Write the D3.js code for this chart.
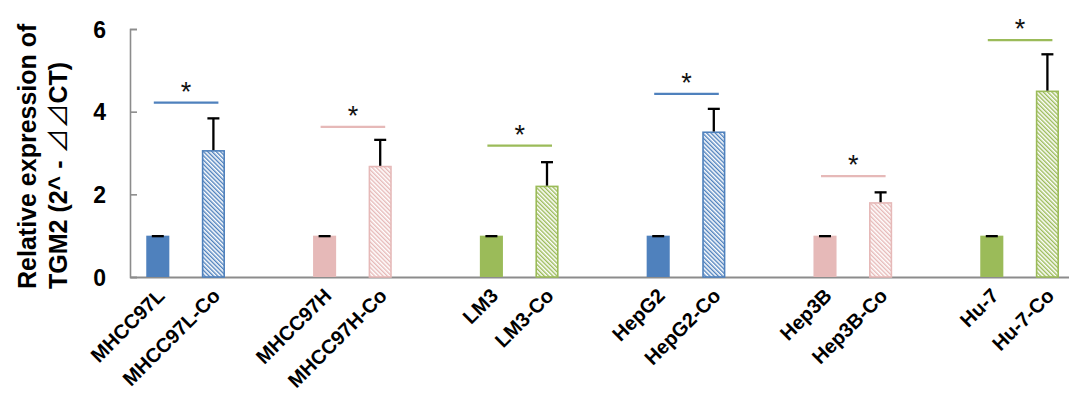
<!DOCTYPE html>
<html>
<head>
<meta charset="utf-8">
<script src="https://cdn.jsdelivr.net/npm/d3@7"></script>
<style>
  html, body { margin: 0; padding: 0; background: #fff; }
  svg { display: block; }
  text { font-family: "Liberation Sans", Arial, sans-serif; }
</style>
</head>
<body>
<svg id="chart" width="1069" height="401"></svg>
<script>
// Cell lines (parental vs co-cultured) and TGM2 relative expression
const groups = ["MHCC97L", "MHCC97H", "LM3", "HepG2", "Hep3B", "Hu-7"];
const categories = ["MHCC97L", "MHCC97L-Co", "MHCC97H", "MHCC97H-Co", "LM3", "LM3-Co",
                    "HepG2", "HepG2-Co", "Hep3B", "Hep3B-Co", "Hu-7", "Hu-7-Co"];
const values = [1.0, 3.07, 1.0, 2.69, 1.0, 2.21, 1.0, 3.52, 1.0, 1.81, 1.0, 4.51];
const errors = [0, 0.78, 0, 0.64, 0, 0.58, 0, 0.56, 0, 0.25, 0, 0.89];
// height of the significance bracket for each pair
const sigLevels = [4.22, 3.63, 3.18, 4.43, 2.44, 5.73];
const yTicks = [0, 2, 4, 6];
const groupColors = ["#4f81bd", "#e6b9b8", "#9bbb59", "#4f81bd", "#e6b9b8", "#9bbb59"];

const svg = d3.select("#chart");
const axisX = 130, baseY = 277, topY = 29;

// each group takes three slots: parent, co-culture, empty gap
const slots = [];
categories.forEach((c, i) => { slots.push(c); if (i % 2 === 1) slots.push("gap" + i); });

const x = d3.scaleBand().domain(slots)
  .range([axisX, axisX + slots.length * 55.6])
  .paddingInner(0.585).paddingOuter(0.2925);
const y = d3.scaleLinear().domain([0, 6]).range([baseY, topY]);

// hatch patterns for co-cultured bars
const defs = svg.append("defs");
Array.from(new Set(groupColors)).forEach(col => {
  const p = defs.append("pattern")
    .attr("id", "hatch" + col.slice(1))
    .attr("patternUnits", "userSpaceOnUse")
    .attr("width", 3).attr("height", 3)
    .attr("patternTransform", "rotate(-45)");
  p.append("rect").attr("width", 3).attr("height", 3).attr("fill", "#fff");
  p.append("line").attr("x1", 0.7).attr("y1", 0).attr("x2", 0.7).attr("y2", 3)
    .attr("stroke", col).attr("stroke-width", 1.4);
});

// y axis
const yAxis = d3.axisLeft(y).tickValues(yTicks).tickSize(-7).tickFormat(d3.format("d")).tickPadding(24);
const gy = svg.append("g").attr("transform", `translate(${axisX},0)`).call(yAxis);
gy.select(".domain").attr("stroke", "#8c8c8c").attr("stroke-width", 1.6);
gy.selectAll(".tick line").attr("stroke", "#8c8c8c").attr("stroke-width", 1.6);
gy.selectAll(".tick text")
  .attr("font-family", "'Liberation Sans', Arial, sans-serif")
  .attr("font-size", 23).attr("font-weight", "bold").attr("fill", "#000")
  .attr("dy", "0.36em");

// x axis baseline
const xAxis = d3.axisBottom(x).tickValues(categories).tickSize(0).tickFormat("");
const gx = svg.append("g").attr("transform", `translate(0,${baseY})`).call(xAxis);
gx.select(".domain").attr("stroke", "#8c8c8c").attr("stroke-width", 1.8);

// category labels, slanted 45 degrees, ending under each bar
const labels = svg.append("g");
categories.forEach(c => {
  labels.append("g")
    .attr("transform", `translate(${x(c) + x.bandwidth() / 2 + 8},${baseY + 20}) rotate(-45)`)
    .append("text")
    .attr("text-anchor", "end")
    .attr("font-size", 20).attr("font-weight", "bold").attr("fill", "#000")
    .text(c);
});

// bars
const bars = svg.append("g");
categories.forEach((c, i) => {
  const col = groupColors[Math.floor(i / 2)];
  const co = i % 2 === 1;
  bars.append("rect")
    .attr("x", x(c) + (co ? 0.75 : 0))
    .attr("y", y(values[i]) + (co ? 0.75 : 0))
    .attr("width", x.bandwidth() - (co ? 1.5 : 0))
    .attr("height", y(0) - y(values[i]) - (co ? 0.75 : 0))
    .attr("fill", co ? `url(#hatch${col.slice(1)})` : col)
    .attr("stroke", co ? col : "none")
    .attr("stroke-width", 1.6);
});

// error bars (upper only)
const eb = svg.append("g").attr("stroke", "#000").attr("stroke-width", 2.3);
categories.forEach((c, i) => {
  const cx = x(c) + x.bandwidth() / 2;
  const y0 = y(values[i]), y1 = y(values[i] + errors[i]);
  if (errors[i] > 0) eb.append("line").attr("x1", cx).attr("x2", cx).attr("y1", y0).attr("y2", y1);
  eb.append("line").attr("x1", cx - 6).attr("x2", cx + 6).attr("y1", y1 + 0.5).attr("y2", y1 + 0.5);
});

// significance brackets with asterisks
const sig = svg.append("g");
groups.forEach((g, k) => {
  const a = categories[2 * k], b = categories[2 * k + 1];
  const x1 = x(a) + x.bandwidth() / 2 - 4;
  const x2 = x(b) + x.bandwidth() / 2 + 5;
  const ly = y(sigLevels[k]);
  sig.append("line").attr("x1", x1).attr("x2", x2).attr("y1", ly).attr("y2", ly)
    .attr("stroke", groupColors[k]).attr("stroke-width", 2.3);
  sig.append("text").attr("x", (x1 + x2) / 2).attr("y", ly - 2)
    .attr("text-anchor", "middle").attr("font-size", 27).attr("fill", "#111")
    .text("*");
});

// y-axis title (two lines)
const title = svg.append("text")
  .attr("transform", "translate(0,289) rotate(-90)")
  .attr("font-size", 25).attr("font-weight", "bold").attr("fill", "#000");
title.append("tspan").attr("x", 0).attr("y", 36).text("Relative expression of");
const t2 = title.append("tspan").attr("x", 0).attr("y", 67);
t2.append("tspan").text("TGM2 (2^ - ");
t2.append("tspan").attr("font-family", "'Noto Sans CJK SC', sans-serif").attr("font-weight", "normal").text("⊿⊿");
t2.append("tspan").text("CT)");
</script>
</body>
</html>
